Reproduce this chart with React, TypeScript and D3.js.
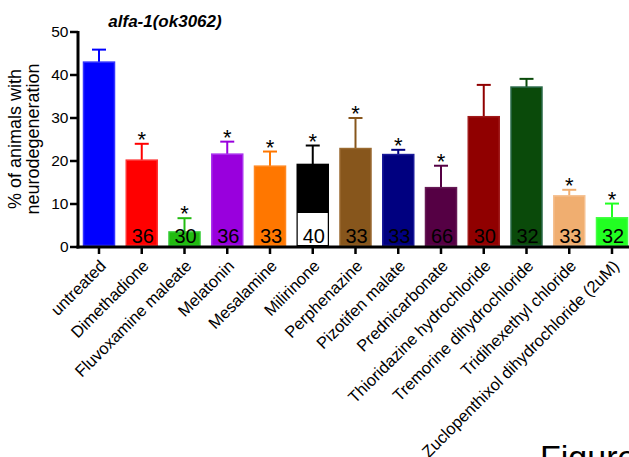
import React from 'react';
import * as d3 from 'd3';

// treatments on the x axis
const categories = [
  'untreated',
  'Dimethadione',
  'Fluvoxamine maleate',
  'Melatonin',
  'Mesalamine',
  'Milirinone',
  'Perphenazine',
  'Pizotifen malate',
  'Prednicarbonate',
  'Thioridazine hydrochloride',
  'Tremorine dihydrochloride',
  'Tridihexethyl chloride',
  'Zuclopenthixol dihydrochloride (2uM)',
];

// % of animals with neurodegeneration, and the error (SEM)
const means = [43.0, 20.2, 3.5, 21.6, 18.8, 19.2, 22.9, 21.5, 13.8, 30.3, 37.2, 11.9, 6.8];
const errors = [2.9, 3.8, 3.2, 2.9, 3.4, 4.4, 7.1, 1.1, 5.1, 7.4, 1.9, 1.4, 3.3];

// number of animals scored (untreated has no label)
const nLabels = ['', '36', '30', '36', '33', '40', '33', '33', '66', '30', '32', '33', '32'];

// significance stars
const significant = [false, true, true, true, true, true, true, true, true, false, false, true, true];

const yTicks = [0, 10, 20, 30, 40, 50];

const colors = [
  '#0000ff', '#ff0000', '#22bb11', '#9900dd', '#ff7700', '#000000', '#87561c',
  '#000080', '#550044', '#900000', '#0a4a0a', '#f0ae70', '#22ff22',
];
const strokes = [
  '#3333ff', '#ff3333', '#33cc33', '#aa33ee', '#ff8822', '#000000', '#9a6a30',
  '#1a1a99', '#661a55', '#a01a1a', '#2a6a4a', '#f5c090', '#44ff44',
];

const font = 'Liberation Sans, Arial, Helvetica, sans-serif';

export default function App() {
  const width = 629;
  const height = 457;

  const x = d3.scalePoint<string>().domain(categories).range([99, 612]);
  const y = d3.scaleLinear().domain([0, 50]).range([247, 32]);
  const barW = 31;
  const capW = 14;

  return (
    <svg
      width={width}
      height={height}
      style={{ position: 'absolute', left: 0, top: 0, background: '#fff' }}
      fontFamily={font}
    >
      {/* title */}
      <text x={165} y={27} textAnchor="middle" fontSize={17} fontWeight="bold" fontStyle="italic">
        alfa-1(ok3062)
      </text>

      {/* y axis label */}
      <g transform="translate(21,139) rotate(-90)">
        <text textAnchor="middle" fontSize={18}>% of animals with</text>
      </g>
      <g transform="translate(39,139) rotate(-90)">
        <text textAnchor="middle" fontSize={18}>neurodegeneration</text>
      </g>

      {/* bars */}
      {categories.map((c, i) => {
        const cx = x(c) as number;
        const top = y(means[i]);
        const errTop = y(means[i] + errors[i]);
        return (
          <g key={c}>
            <line x1={cx} x2={cx} y1={top} y2={errTop} stroke={colors[i]} strokeWidth={2} />
            <line x1={cx - capW / 2} x2={cx + capW / 2} y1={errTop} y2={errTop} stroke={colors[i]} strokeWidth={2} />
            <rect
              x={cx - barW / 2}
              y={top}
              width={barW}
              height={y(0) - top - 1.5}
              fill={colors[i]}
              stroke={strokes[i]}
              strokeWidth={1.5}
            />
            {c === 'Milirinone' && (
              <rect x={cx - barW / 2 + 0.5} y={y(0) - 34} width={barW - 1} height={32} fill="#fff" />
            )}
            {nLabels[i] && (
              <text x={cx + 1} y={243} textAnchor="middle" fontSize={20} fill="#000">
                {nLabels[i]}
              </text>
            )}
            {significant[i] && (
              <text x={cx} y={errTop + 3} textAnchor="middle" fontSize={22} fill="#000">
                *
              </text>
            )}
          </g>
        );
      })}

      {/* y axis */}
      <line x1={78} x2={78} y1={31} y2={248.5} stroke="#000" strokeWidth={3} />
      {yTicks.map((t) => (
        <g key={t}>
          <line x1={70} x2={78} y1={y(t)} y2={y(t)} stroke="#000" strokeWidth={2.5} />
          <text x={68.5} y={y(t)} dy="0.35em" textAnchor="end" fontSize={15.5}>
            {t}
          </text>
        </g>
      ))}

      {/* x axis */}
      <line x1={76.5} x2={width} y1={247} y2={247} stroke="#000" strokeWidth={3} />
      {categories.map((c) => {
        const cx = x(c) as number;
        return (
          <g key={c}>
            <line x1={cx} x2={cx} y1={247} y2={254} stroke="#000" strokeWidth={2.5} />
            <text
              transform={`translate(${cx + 4},${263}) rotate(-45)`}
              textAnchor="end"
              dy="0.35em"
              fontSize={16.5}
            >
              {c}
            </text>
          </g>
        );
      })}

      {/* cut-off figure caption */}
      <text x={540} y={469} fontSize={34}>
        Figure
      </text>
    </svg>
  );
}
